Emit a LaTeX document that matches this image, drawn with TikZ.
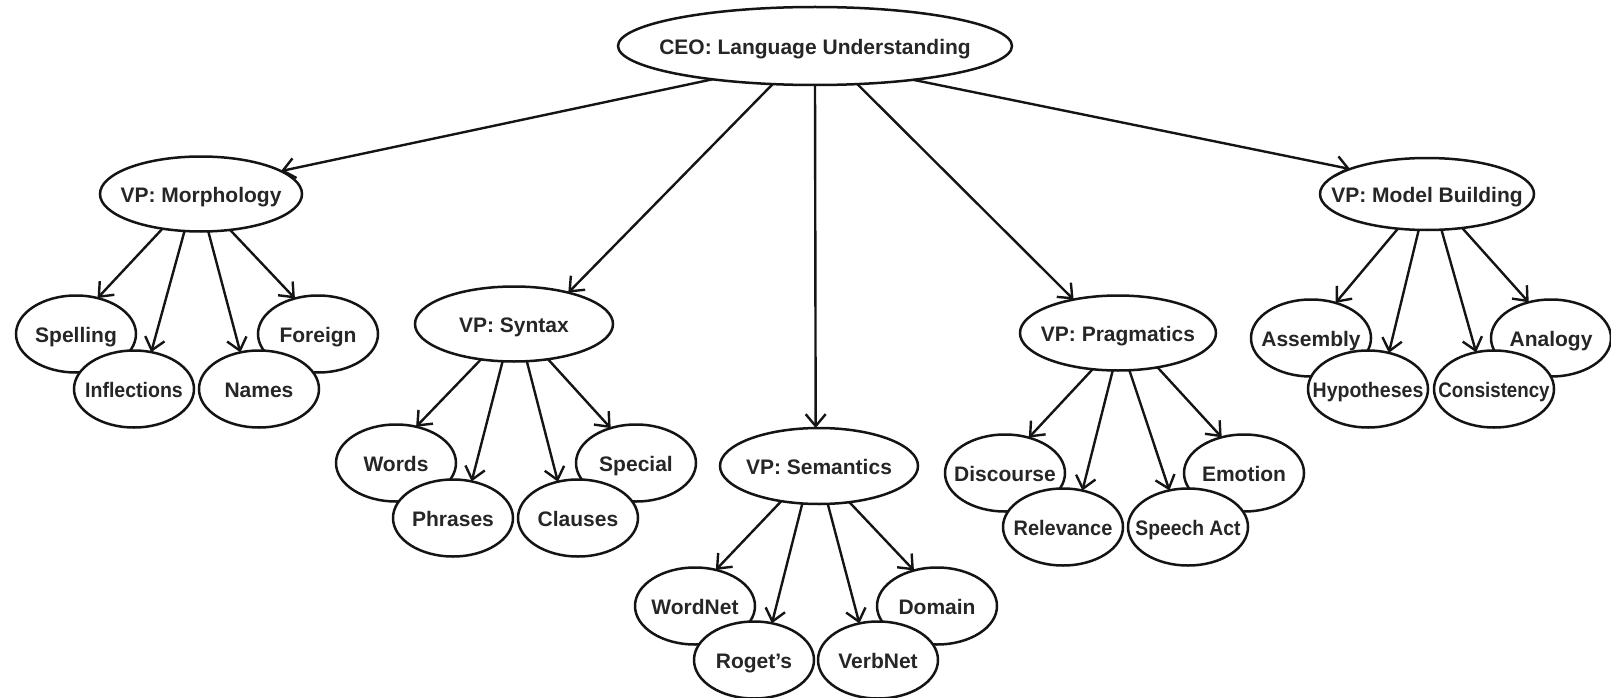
\documentclass[tikz,border=0pt]{standalone}
\usepackage{fontspec}
\setmainfont{Liberation Sans}
\usepackage{graphicx}
\usetikzlibrary{shapes.geometric,arrows.meta}
\tikzset{
  el/.style={ellipse, draw=black!92, line width=2.5pt, fill=white, inner sep=0pt, outer sep=0pt,
    text=black!85, font=\fontsize{21}{24}\selectfont\bfseries, text height=17pt, text depth=0pt},
  leaf/.style={el, minimum width=120pt, minimum height=77pt},
  arr/.style={-{Straight Barb[length=12pt,width=20pt]}, line width=2.4pt, draw=black!92}
}
\newcommand{\tx}[1]{\makebox[0pt][c]{#1}}
\newcommand{\sx}[2]{\makebox[0pt][c]{\scalebox{#1}[1]{#2}}}
\begin{document}
\begin{tikzpicture}[x=1pt,y=-1pt]
\useasboundingbox (0,0) rectangle (1611,698);
% root and VPs
\node[el, minimum width=394pt, minimum height=78pt] (ceo) at (815,46) {\tx{CEO: Language Understanding}};
\node[el, minimum width=202pt, minimum height=75pt] (morph) at (201,194) {\tx{VP: Morphology}};
\node[el, minimum width=198pt, minimum height=75pt] (syn) at (514,324) {\tx{VP: Syntax}};
\node[el, minimum width=198pt, minimum height=76pt] (sem) at (819,466) {\tx{VP: Semantics}};
\node[el, minimum width=196pt, minimum height=75pt] (prag) at (1118,333) {\tx{VP: Pragmatics}};
\node[el, minimum width=214pt, minimum height=72pt] (model) at (1427,194) {\tx{VP: Model Building}};
% upper leaves
\node[leaf] (spell) at (76,334) {\tx{Spelling}};
\node[leaf] (foreign) at (318,334) {\tx{Foreign}};
\node[leaf] (words) at (396,463) {\tx{Words}};
\node[leaf] (special) at (636,463) {\tx{Special}};
\node[leaf] (wordnet) at (695,606) {\tx{WordNet}};
\node[leaf] (domain) at (937,606) {\tx{Domain}};
\node[leaf] (disc) at (1005,473) {\tx{Discourse}};
\node[leaf] (emotion) at (1244,473) {\tx{Emotion}};
\node[leaf] (assembly) at (1311,338) {\tx{Assembly}};
\node[leaf] (analogy) at (1551,338) {\tx{Analogy}};
% lower leaves
\node[leaf] (infl) at (134,389) {\sx{0.93}{Inflections}};
\node[leaf] (names) at (259,389) {\tx{Names}};
\node[leaf] (phrases) at (453,518) {\tx{Phrases}};
\node[leaf] (clauses) at (578,518) {\tx{Clauses}};
\node[leaf] (rogets) at (754,660) {\tx{Roget's}};
\node[leaf] (verbnet) at (878,660) {\tx{VerbNet}};
\node[leaf] (relev) at (1063,527) {\sx{0.95}{Relevance}};
\node[leaf] (speech) at (1188,527) {\sx{0.92}{Speech Act}};
\node[leaf] (hyp) at (1368,389) {\sx{0.93}{Hypotheses}};
\node[leaf] (cons) at (1494,389) {\sx{0.89}{Consistency}};
% connectors
\draw[arr] (ceo.198) -- (morph.16);
\draw[arr] (ceo.222) -- (syn.30);
\draw[arr] (ceo.270) -- (sem.95);
\draw[arr] (ceo.318.5) -- (prag.143);
\draw[arr] (ceo.341) -- (model.162);
\draw[arr] (morph.222) -- (spell.59);
\draw[arr] (morph.246) -- (infl.65);
\draw[arr] (morph.281) -- (names.117);
\draw[arr] (morph.309) -- (foreign.123);
\draw[arr] (syn.227.6) -- (words.61);
\draw[arr] (syn.253.4) -- (phrases.63);
\draw[arr] (syn.289.5) -- (clauses.119);
\draw[arr] (syn.314.4) -- (special.126);
\draw[arr] (sem.223.6) -- (wordnet.60);
\draw[arr] (sem.246.9) -- (rogets.64.6);
\draw[arr] (sem.283.4) -- (verbnet.117.8);
\draw[arr] (sem.310.6) -- (domain.123);
\draw[arr] (prag.235) -- (disc.56.7);
\draw[arr] (prag.262.3) -- (relev.62.9);
\draw[arr] (prag.287.6) -- (speech.117);
\draw[arr] (prag.319.8) -- (emotion.122);
\draw[arr] (model.230) -- (assembly.55.6);
\draw[arr] (model.257.4) -- (hyp.60.6);
\draw[arr] (model.292.8) -- (cons.116);
\draw[arr] (model.316.7) -- (analogy.122);
\end{tikzpicture}
\end{document}
